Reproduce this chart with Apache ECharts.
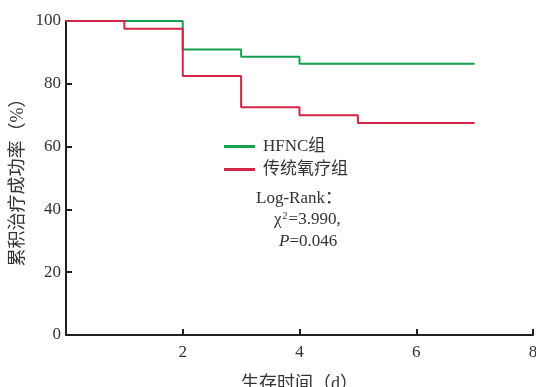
<!DOCTYPE html>
<html><head><meta charset="utf-8">
<script src="https://cdn.jsdelivr.net/npm/echarts@6/dist/echarts.min.js"></script>
<style>html,body{margin:0;padding:0;background:#fff}#c{width:536px;height:387px}</style>
</head><body><div id="c"></div>
<script>
const seriesNames = ['HFNC组', '传统氧疗组'];
const hfncTimes = [0, 2, 3, 4, 7];
const hfncValues = [100, 90.9, 88.6, 86.4, 86.4];
const oxyTimes = [0, 1, 2, 3, 4, 5, 7];
const oxyValues = [100, 97.5, 82.5, 72.5, 70.0, 67.5, 67.5];
const xTicks = [0, 2, 4, 6, 8];
const yTicks = [0, 20, 40, 60, 80, 100];
const statLines = ['Log-Rank：', 'χ²=3.990,', 'P=0.046'];

const serif = '"Liberation Serif", "Noto Sans CJK SC", serif';
const txt = '#333';
const chart = echarts.init(document.getElementById('c'));
chart.setOption({
  animation: false,
  grid: {left: 66, right: 3, top: 21, bottom: 52, containLabel: false, outerBoundsMode: 'none'},
  xAxis: {
    type: 'value', min: xTicks[0], max: xTicks[xTicks.length-1], interval: 2,
    name: '生存时间（d）', nameLocation: 'middle', nameGap: 40, nameMoveOverlap: false,
    nameTextStyle: {fontFamily: serif, fontSize: 18, color: txt},
    axisLine: {lineStyle: {color: '#231f20', width: 2}},
    axisTick: {inside: true, length: 6, lineStyle: {color: '#231f20', width: 2}},
    axisLabel: {fontFamily: serif, fontSize: 17, color: txt, margin: 9,
      formatter: v => v === 0 ? '' : String(v)},
    splitLine: {show: false}
  },
  yAxis: {
    type: 'value', min: yTicks[0], max: yTicks[yTicks.length-1], interval: 20,
    name: '累积治疗成功率（%）', nameLocation: 'middle', nameGap: 39, nameRotate: 90, nameMoveOverlap: false,
    nameTextStyle: {fontFamily: serif, fontSize: 18, color: txt},
    axisLine: {show: true, lineStyle: {color: '#231f20', width: 2}},
    axisTick: {show: true, inside: true, length: 6, lineStyle: {color: '#231f20', width: 2}},
    axisLabel: {fontFamily: serif, fontSize: 17, color: txt, margin: 5},
    splitLine: {show: false}
  },
  legend: {
    orient: 'vertical', left: 219, top: 133, itemWidth: 31, itemHeight: 3, itemGap: 6,
    icon: 'rect',
    textStyle: {fontFamily: serif, fontSize: 17, color: txt, padding: [0, 0, 0, 3]},
    data: seriesNames
  },
  series: [
    {name: seriesNames[0], type: 'line', step: 'end', symbol: 'none',
     color: '#13a04f', lineStyle: {width: 2},
     data: hfncTimes.map((t, i) => [t, hfncValues[i]])},
    {name: seriesNames[1], type: 'line', step: 'end', symbol: 'none',
     color: '#d12645', lineStyle: {width: 2},
     data: oxyTimes.map((t, i) => [t, oxyValues[i]])}
  ],
  graphic: [
    {type: 'text', left: 256, top: 190, style: {text: statLines[0], font: '17px ' + serif, fill: txt}},
    {type: 'text', left: 274, top: 211, style: {
      text: '{n|χ}{s|2}{n|=3.990,}',
      rich: {n: {font: '17px ' + serif, fill: txt}, s: {font: '10px ' + serif, fill: txt, verticalAlign: 'top', padding: [0,1,7,1]}}
    }},
    {type: 'text', left: 279, top: 233, style: {
      text: '{i|P}{n|=0.046}',
      rich: {i: {font: 'italic 17px ' + serif, fill: txt}, n: {font: '17px ' + serif, fill: txt}}
    }}
  ]
});
</script></body></html>
